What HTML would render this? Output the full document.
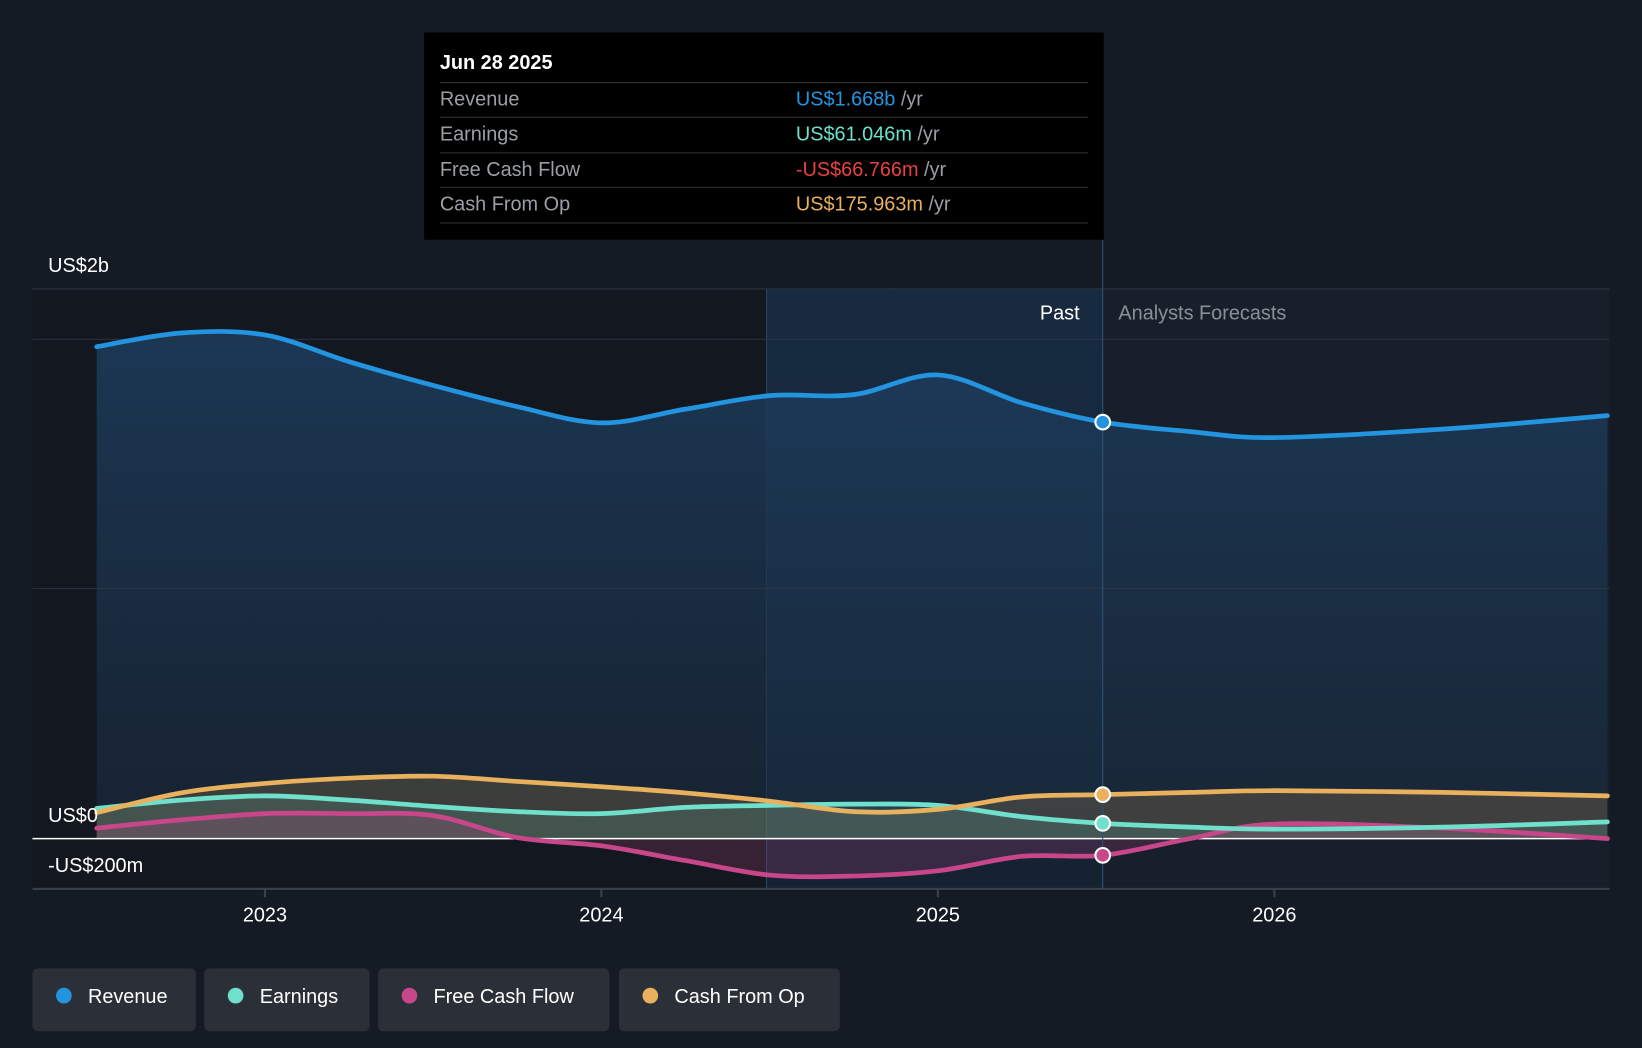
<!DOCTYPE html>
<html><head><meta charset="utf-8"><style>
html,body{margin:0;padding:0;background:#151b24;width:1642px;height:1048px;overflow:hidden}
svg{display:block;font-family:"Liberation Sans",sans-serif}
</style></head><body>
<svg id="chart" width="1642" height="1048" viewBox="0 0 1568 1001" preserveAspectRatio="none">
<defs>
<linearGradient id="revFill" x1="0" y1="0" x2="0" y2="1"><stop offset="0" stop-color="#1d3d5e" stop-opacity="0.85"/><stop offset="1" stop-color="#1a2c40" stop-opacity="0.55"/></linearGradient>
<linearGradient id="pastBand" x1="0" y1="0" x2="0" y2="1"><stop offset="0" stop-color="#1a3a5c" stop-opacity="0.55"/><stop offset="1" stop-color="#1a3a5c" stop-opacity="0.3"/></linearGradient>
</defs>
<rect x="0" y="0" width="1568" height="1001" fill="#151b24"/>
<rect x="31" y="276" width="1022" height="573" fill="#131820"/>
<rect x="1053" y="276" width="484" height="573" fill="#171f2a"/>
<rect x="732" y="276" width="321" height="573" fill="url(#pastBand)"/>
<line x1="732" y1="276" x2="732" y2="849" stroke="#2a4460" stroke-width="1"/>
<g id="fills"></g>
<g id="grid"></g>
<line x1="1053" y1="229" x2="1053" y2="849" stroke="#2f5479" stroke-width="1"/>
<g id="lines"></g>
<g id="axes"></g>
<text x="993" y="305" fill="#fff" font-size="19">Past</text>
<text x="1068" y="305" fill="#8a9099" font-size="19">Analysts Forecasts</text>
<g>
<rect x="405" y="31" width="649" height="198" fill="#000"/>
<text x="420" y="66" fill="#fff" font-size="19" font-weight="bold">Jun 28 2025</text>
<line x1="420" y1="79" x2="1039" y2="79" stroke="#333"/>
<line x1="420" y1="112" x2="1039" y2="112" stroke="#333"/>
<line x1="420" y1="146" x2="1039" y2="146" stroke="#333"/>
<line x1="420" y1="179" x2="1039" y2="179" stroke="#333"/>
<line x1="420" y1="213" x2="1039" y2="213" stroke="#333"/>
<text x="420" y="101" fill="#9a9fa6" font-size="19">Revenue</text>
<text x="420" y="134" fill="#9a9fa6" font-size="19">Earnings</text>
<text x="420" y="168" fill="#9a9fa6" font-size="19">Free Cash Flow</text>
<text x="420" y="201" fill="#9a9fa6" font-size="19">Cash From Op</text>
<text x="760" y="101" font-size="19"><tspan fill="#2394df">US$1.668b</tspan><tspan fill="#9a9fa6"> /yr</tspan></text>
<text x="760" y="134" font-size="19"><tspan fill="#6ee0cb">US$61.046m</tspan><tspan fill="#9a9fa6"> /yr</tspan></text>
<text x="760" y="168" font-size="19"><tspan fill="#e8413f">-US$66.766m</tspan><tspan fill="#9a9fa6"> /yr</tspan></text>
<text x="760" y="201" font-size="19"><tspan fill="#e9b05d">US$175.963m</tspan><tspan fill="#9a9fa6"> /yr</tspan></text>
</g>
<g id="legend"></g>
</svg>
<script>
const years=[2022.5,2022.75,2023,2023.25,2023.5,2023.75,2024,2024.25,2024.5,2024.75,2025,2025.25,2025.49,2025.75,2026,2026.5,2027];
const revenue=[1970,2025,2017,1910,1815,1730,1665,1720,1774,1778,1857,1745,1668,1630,1606,1640,1694];
const earnings=[121,154,171,154,129,108,100,125,133,138,133,88,61,46,38,46,67];
const fcf=[42,75,100,100,92,4,-29,-88,-146,-150,-129,-71,-67,0,58,42,0];
const cfo=[104,183,221,242,250,229,208,183,150,108,117,167,176,185,192,185,171];
const xTicks=[2023,2024,2025,2026];
const NS="http://www.w3.org/2000/svg";
const xs=y=>253+(y-2023)*321.3;
const ys=v=>801-v*0.2385;
function el(tag,attrs,parent){const e=document.createElementNS(NS,tag);for(const k in attrs)e.setAttribute(k,attrs[k]);parent.appendChild(e);return e;}
function path(vals){const p=years.map((y,i)=>[xs(Math.min(y,2026.99)),ys(vals[i])]);let d=`M${p[0][0]},${p[0][1]}`;
for(let i=0;i<p.length-1;i++){const p0=p[Math.max(0,i-1)],p1=p[i],p2=p[i+1],p3=p[Math.min(p.length-1,i+2)];
const c1=[p1[0]+(p2[0]-p0[0])/6,p1[1]+(p2[1]-p0[1])/6],c2=[p2[0]-(p3[0]-p1[0])/6,p2[1]-(p3[1]-p1[1])/6];
d+=`C${c1[0]},${c1[1]} ${c2[0]},${c2[1]} ${p2[0]},${p2[1]}`;}return d;}
const fills=document.getElementById('fills'),lines=document.getElementById('lines'),grid=document.getElementById('grid'),axes=document.getElementById('axes');
const x0=xs(2022.5),x1=xs(2026.99),z=ys(0);
const series=[
 {name:'revenue',vals:revenue,color:'#2394df',fill:'url(#revFill)',op:1},
 {name:'cash-from-op',vals:cfo,color:'#e9b05d',fill:'#e9b05d',op:0.18},
 {name:'earnings',vals:earnings,color:'#6ee0cb',fill:'#6ee0cb',op:0.15},
 {name:'free-cash-flow',vals:fcf,color:'#c8478a',fill:'#c8478a',op:0.2}];
series.forEach(s=>{
 const f=el('path',{d:path(s.vals)+`L${x1},${z}L${x0},${z}Z`,fill:s.fill,'fill-opacity':s.op},fills);
 
 
});
[276,324,562].forEach((y,i)=>{const g=el('line',{x1:31,x2:1537,y1:y,y2:y,stroke:'#2c3440','stroke-width':1},grid);
 
 });
const bl=el('line',{x1:31,x2:1537,y1:849,y2:849,stroke:'#3a414c','stroke-width':2},grid);


const zl=el('line',{x1:31,x2:1537,y1:z,y2:z,stroke:'#fff','stroke-width':1.5},grid);


series.slice().reverse().forEach(s=>{
 const l=el('path',{d:path(s.vals),fill:'none',stroke:s.color,'stroke-width':4.5,'stroke-linecap':'round'},lines);
 
 
 const idx=years.indexOf(2025.49);
 const c=el('circle',{cx:xs(years[idx]),cy:ys(s.vals[idx]),r:7,fill:s.color,stroke:'#fff','stroke-width':2},lines);
 
 
});
xTicks.forEach(t=>{const tk=el('line',{x1:xs(t),x2:xs(t),y1:849,y2:857,stroke:'#3a414c','stroke-width':2},axes);
 
 
 const tx=el('text',{x:xs(t),y:880,fill:'#fff','font-size':19,'text-anchor':'middle'},axes);tx.textContent=t;
 
 });
[['US$2b',260],['US$0',785],['-US$200m',833]].forEach(([t,y])=>{const tx=el('text',{x:46,y:y,fill:'#fff','font-size':19},axes);tx.textContent=t;
 
 });
const leg=document.getElementById('legend');
[['Revenue','#2394df',31,156],['Earnings','#6ee0cb',195,158],['Free Cash Flow','#c8478a',361,221],['Cash From Op','#e9b05d',591,211]].forEach(([t,c,x,w])=>{
 const g=el('g',{},leg);
 
 
 el('rect',{x:x,y:925,width:w,height:60,rx:5,fill:'#2a2f38'},g);
 el('circle',{cx:x+30,cy:951,r:7.5,fill:c},g);
 const tx=el('text',{x:x+53,y:958,fill:'#fff','font-size':19},g);tx.textContent=t;});
</script>
</body></html>
